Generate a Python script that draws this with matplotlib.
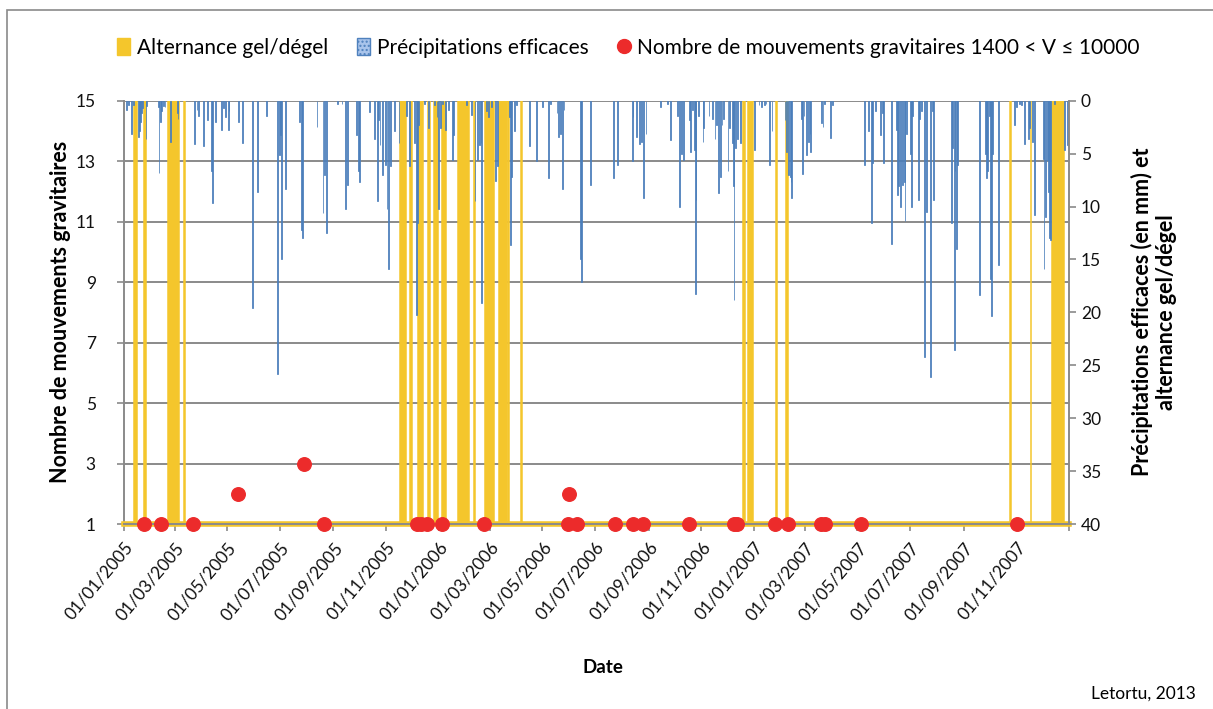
import matplotlib
matplotlib.use('Agg')
import matplotlib.pyplot as plt
import matplotlib.dates as mdates
from matplotlib.patches import Patch, Rectangle
from matplotlib.lines import Line2D
import numpy as np
import pandas as pd

# day offsets are counted from this date
START = '2005-01-01'
END = '2008-01-01'

# effective precipitation (mm), daily
precip_day = [
    3, 6, 9, 11, 17, 18, 19, 20, 21, 22, 26, 27, 40, 41, 43, 44, 46, 48, 54, 62, 63,
    82, 85, 87, 93, 97, 102, 103, 106, 113, 116, 118, 121, 122, 133, 138, 149, 155,
    166, 178, 181, 182, 183, 188, 204, 206, 207, 224, 231, 233, 235, 248, 253, 257,
    259, 270, 272, 273, 285, 291, 294, 295, 297, 300, 303, 305, 307, 309, 314,
    319, 328, 331, 337, 339, 340, 342, 349, 353, 360, 363, 365, 367, 369, 373, 376,
    381, 382, 397, 403, 407, 410, 412, 414, 415, 420, 423, 426, 431, 433, 447, 448,
    449, 453, 455, 470,
    478, 485, 492, 494, 502, 504, 506, 508, 510, 529, 530, 541, 567, 572, 589, 590,
    594, 598, 600, 602, 605, 622, 630,
    633, 642, 644, 646, 648, 655, 657, 659, 661, 662, 663, 666, 671, 672, 678, 682,
    685, 687, 689, 691, 693, 695, 700, 702, 705, 706, 707, 709, 711, 715, 731, 736,
    739, 742, 744, 748, 751, 766, 768, 770, 772, 773, 774, 785, 786,
    788, 791, 793, 795, 796, 808, 810, 812, 819, 821, 858, 863, 866, 867, 871, 877,
    879, 880, 889, 895, 896, 898, 900, 902, 904, 905, 907, 911, 913, 914, 921, 922,
    924, 928, 930, 935, 937, 938,
    959, 960, 962, 963, 965, 966, 991, 998, 999, 1001, 1003, 1004, 1005, 1006, 1013,
    1032, 1034, 1038, 1040, 1043, 1048, 1049, 1053, 1055, 1065, 1066, 1068, 1070,
    1071, 1072, 1074, 1078, 1090, 1093,
]
precip_mm = [
    0.9, 0.4, 3.1, 0.4, 3.4, 2.9, 1.2, 2.0, 1.2, 0.7, 3.6, 0.5, 0.6, 6.8, 2.0, 1.0, 0.5, 0.6, 3.9, 1.2, 1.7,
    4.1, 0.9, 1.4, 4.3, 1.8, 6.6, 9.7, 2.0, 2.8, 0.7, 1.5, 2.8, 1.0, 2.0, 4.0, 19.6, 8.6,
    1.4, 25.8, 5.1, 3.2, 15.0, 8.3, 2.0, 12.2, 13.0, 2.5, 10.6, 7.0, 12.5, 0.3, 0.3, 10.2,
    8.0, 3.2, 6.6, 7.7, 1.1, 3.6, 9.5, 1.8, 4.2, 7.0, 6.1, 10.2, 15.9, 6.2, 2.9,
    4.0, 1.4, 6.2, 4.0, 20.2, 11.6, 2.3, 0.3, 2.6, 0.4, 1.5, 10.2, 2.6, 0.3, 2.8, 0.9,
    5.6, 3.2, 0.4, 1.3, 9.5, 5.6, 4.2, 4.0, 19.1, 1.0, 1.5, 0.6, 7.6, 6.2, 1.5, 13.6,
    7.2, 2.9, 0.4, 4.3,
    5.7, 0.6, 7.3, 0.3, 1.2, 3.4, 3.1, 8.3, 0.9, 15.0, 17.1, 8.0, 7.3, 6.1, 5.7, 1.5,
    3.4, 4.1, 3.9, 9.2, 3.1, 0.6, 0.3,
    3.7, 1.4, 10.0, 5.0, 5.6, 1.8, 4.8, 0.9, 4.7, 18.3, 9.4, 1.4, 3.9, 2.6, 1.4, 1.7,
    3.6, 2.3, 8.7, 7.2, 2.3, 1.7, 6.6, 2.6, 4.0, 8.1, 18.8, 4.5, 3.6, 4.0, 4.7, 0.4,
    0.6, 0.4, 0.3, 6.1, 2.9, 1.8, 4.8, 7.0, 7.2, 7.7, 9.2, 1.7, 6.9,
    1.4, 5.1, 3.9, 3.1, 4.8, 2.1, 2.5, 0.3, 3.5, 0.4, 6.1, 2.9, 11.6, 5.9, 1.0, 3.2,
    1.2, 5.9, 13.5, 2.8, 8.9, 8.1, 10.0, 8.0, 7.7, 11.4, 3.1, 5.0, 10.0, 1.4, 9.4, 1.7,
    1.0, 24.2, 10.5, 26.1, 1.0, 9.4,
    11.6, 4.5, 23.6, 6.6, 14.0, 6.1, 18.4, 5.0, 7.3, 6.6, 1.4, 16.8, 20.3, 5.0, 15.5,
    2.3, 0.6, 0.3, 0.4, 4.1, 3.6, 2.6, 3.9, 10.8, 5.5, 15.9, 11.0, 5.6,
    8.6, 13.0, 13.2, 0.3, 4.7, 4.2,
]

# freeze/thaw periods (first and last day)
freeze_start = [13, 24, 52, 71, 321, 332, 342, 353, 360, 369, 388, 406, 419, 435,
                446, 461, 718, 724, 756, 768, 1027, 1051, 1076]
freeze_end = [15, 25, 64, 71, 327, 333, 346, 354, 364, 373, 399, 407, 429, 443,
              446, 461, 719, 729, 756, 769, 1027, 1051, 1089]

# gravitational movements (1400 < V <= 10000)
move_day = [24, 43, 80, 132, 209, 232, 340, 344, 351, 369, 417, 515, 516, 525, 569,
            590, 601, 655, 707, 711, 755, 769, 808, 812, 854, 1035]
move_count = [1, 1, 1, 2, 3, 1, 1, 1, 1, 1, 1, 1, 2, 1, 1,
              1, 1, 1, 1, 1, 1, 1, 1, 1, 1, 1]

YELLOW = '#F4C62C'
BLUE = '#4A7EBB'
RED = '#EC2B2B'
GREY = '#8A8A8A'

plt.rcParams['font.family'] = ['Lato', 'DejaVu Sans']

t0 = mdates.date2num(pd.Timestamp(START))
t1 = mdates.date2num(pd.Timestamp(END))

fig = plt.figure(figsize=(12.13, 7.09), dpi=100)
fig.patches.append(Rectangle((0.0058, -0.05), 1.2, 1.036, transform=fig.transFigure,
                             fill=False, edgecolor=GREY, linewidth=1.2))

ax = fig.add_axes([0.1019, 0.2609, 0.7794, 0.597])
ax.set_xlim(t0, t1)
ax.set_ylim(1, 15)
ax.set_yticks(np.arange(1, 16, 2))
ax.grid(axis='y', color=GREY, linewidth=1.4)
ax.set_axisbelow(True)
for side in ['top', 'right']:
    ax.spines[side].set_visible(False)
ax.spines['left'].set_color(GREY)
ax.spines['left'].set_linewidth(1.4)
ax.spines['bottom'].set_visible(False)

ticks = pd.date_range(START, END, freq='2MS')
ax.set_xticks(mdates.date2num(ticks))
ax.set_xticklabels([d.strftime('%d/%m/%Y') if d < pd.Timestamp(END) else '' for d in ticks],
                   rotation=50, ha='right', rotation_mode='anchor')
ax.tick_params(axis='both', direction='out', length=5, color=GREY, width=1.2,
               labelsize=12.5, labelcolor='#111111')
ax.tick_params(axis='x', pad=6)
ax.tick_params(axis='y', pad=15)

# precipitation and freeze/thaw on the inverted right axis
ax2 = ax.twinx()
ax2.set_ylim(40, 0)
ax2.set_yticks(np.arange(0, 41, 5))
starts = np.array(freeze_start)
ends = np.array(freeze_end)
ax2.bar(t0 + starts - 0.5, 40, width=ends - starts + 1, bottom=0, align='edge',
        color=YELLOW, edgecolor=YELLOW, linewidth=1.1, zorder=1)
ax2.bar(t0 + np.array(precip_day), precip_mm, width=1.0, bottom=0,
        color=BLUE, edgecolor=BLUE, linewidth=0.55, zorder=2)
ax2.axhline(40, color=YELLOW, linewidth=4, clip_on=False, zorder=1.5)
for side in ['top', 'left']:
    ax2.spines[side].set_visible(False)
for side in ['right', 'bottom']:
    ax2.spines[side].set_color(GREY)
    ax2.spines[side].set_linewidth(1.4)
ax2.tick_params(axis='y', direction='out', length=5, color=GREY, width=1.2,
                labelsize=12.5, labelcolor='#111111')

# movement counts on top of everything
ax3 = ax.twinx()
ax3.set_ylim(1, 15)
ax3.axis('off')
ax3.scatter(t0 + np.array(move_day), move_count, s=95, color=RED, zorder=5, clip_on=False)

fig.text(0.0495, 0.56, 'Nombre de mouvements gravitaires', rotation=90,
         ha='center', va='center', fontsize=15.5, fontweight='bold')
fig.text(0.9515, 0.56, 'Précipitations efficaces (en mm) et\nalternance gel/dégel',
         rotation=90, ha='center', va='center', fontsize=15.5, fontweight='bold',
         linespacing=1.15)
fig.text(0.497, 0.059, 'Date', ha='center', va='center', fontsize=13.5, fontweight='bold')
fig.text(0.986, 0.022, 'Letortu, 2013', ha='right', va='center', fontsize=12.5)

handles = [
    Patch(facecolor=YELLOW, edgecolor=YELLOW),
    Patch(facecolor='#A9C4EB', edgecolor='#4F81BD', hatch='....'),
    Line2D([], [], marker='o', linestyle='none', color=RED, markersize=10),
]
labels = ['Alternance gel/dégel', 'Précipitations efficaces',
          'Nombre de mouvements gravitaires 1400 < V ≤ 10000']
fig.legend(handles, labels, loc='center', bbox_to_anchor=(0.518, 0.933), ncol=3,
           frameon=False, fontsize=15, handlelength=0.65, handleheight=0.85,
           handletextpad=0.3, columnspacing=1.4)

fig.savefig('out.png', dpi=100)
